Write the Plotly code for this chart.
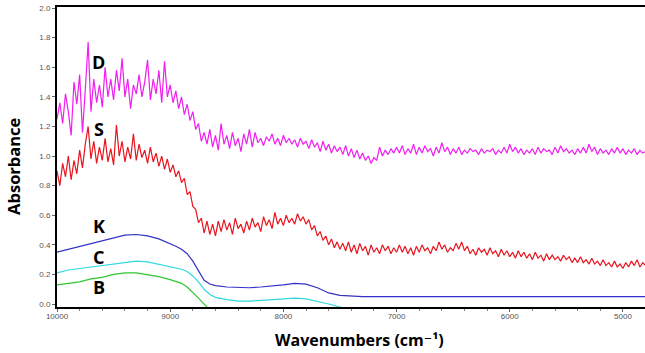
import numpy as np
import plotly.graph_objects as go

# ---- data ----
step = 25  # cm-1 sampling of the noisy spectra, starting at 10000

D_vals = [
    # 10000 .. 8600
    1.25, 1.36, 1.22, 1.42, 1.30, 1.14, 1.50, 1.35, 1.55, 1.16,
    1.45, 1.77, 1.30, 1.52, 1.36, 1.48, 1.33, 1.60, 1.40, 1.52,
    1.38, 1.58, 1.44, 1.66, 1.40, 1.52, 1.32, 1.48, 1.42, 1.55,
    1.40, 1.50, 1.65, 1.38, 1.52, 1.42, 1.58, 1.36, 1.64, 1.40,
    1.48, 1.36, 1.44, 1.32, 1.40, 1.28, 1.35, 1.24, 1.30, 1.18,
    1.22, 1.10, 1.16, 1.08, 1.18, 1.06, 1.14,
    # 8575 .. 7500
    1.04, 1.22, 1.08, 1.14, 1.05, 1.16, 1.07, 1.12, 1.03, 1.15,
    1.08, 1.18, 1.06, 1.16, 1.09, 1.12, 1.07, 1.13, 1.10, 1.15,
    1.08, 1.12, 1.07, 1.14, 1.09, 1.12, 1.08, 1.11, 1.06, 1.12,
    1.08, 1.10, 1.05, 1.11, 1.06, 1.09, 1.03, 1.10, 1.04, 1.08,
    1.02, 1.07, 1.03, 1.06,
    # 7475 .. 7000
    1.01, 1.07, 1.00, 1.05, 0.99, 1.04, 0.98, 1.02, 0.97, 1.00,
    0.95, 0.99, 0.97, 1.06, 1.00, 1.04, 1.01, 1.05, 1.02, 1.06,
    # 6975 .. 4800
    1.02, 1.07, 1.01, 1.05, 1.02, 1.08, 1.01, 1.06, 1.02, 1.07,
    1.03, 1.05, 1.00, 1.06, 1.02, 1.09, 1.03, 1.06, 1.01, 1.05,
    1.02, 1.06, 1.01, 1.04, 1.02, 1.05, 1.03, 1.04, 1.01, 1.05,
    1.02, 1.04, 1.03, 1.05, 1.01, 1.04, 1.02, 1.06, 1.02, 1.08,
    1.03, 1.06, 1.02, 1.05, 1.01, 1.04, 1.02, 1.05, 1.01, 1.06,
    1.02, 1.05, 1.03, 1.04, 1.01, 1.06, 1.02, 1.07, 1.03, 1.05,
    1.02, 1.04, 1.01, 1.05, 1.02, 1.06, 1.02, 1.08, 1.03, 1.06,
    1.01, 1.05, 1.02, 1.04, 1.01, 1.05, 1.02, 1.06, 1.02, 1.05,
    1.01, 1.04, 1.02, 1.05, 1.01, 1.04, 1.02, 1.03,
]

S_vals = [
    # 10000 .. 8600
    0.90, 0.80, 0.95, 0.86, 1.00, 0.84, 0.97, 0.88, 1.04, 0.92,
    1.08, 1.20, 0.98, 1.10, 0.95, 1.06, 0.97, 1.12, 0.96, 1.05,
    0.94, 1.21, 1.00, 1.10, 0.96, 1.06, 0.98, 1.15, 0.97, 1.08,
    0.99, 1.04, 0.95, 1.06, 0.96, 1.02, 0.93, 1.00, 0.91, 0.98,
    0.89, 0.94, 0.86, 0.90, 0.82, 0.85, 0.74, 0.76, 0.66, 0.64,
    0.55, 0.58, 0.48, 0.56, 0.47, 0.54, 0.46,
    # 8575 .. 7500
    0.56, 0.49, 0.57, 0.50, 0.55, 0.47, 0.58, 0.51, 0.54, 0.48,
    0.56, 0.50, 0.58, 0.52, 0.55, 0.49, 0.59, 0.53, 0.57, 0.51,
    0.62, 0.54, 0.58, 0.53, 0.60, 0.55, 0.58, 0.54, 0.61, 0.56,
    0.59, 0.54, 0.57, 0.50, 0.53, 0.46, 0.49, 0.43, 0.46, 0.40,
    0.44, 0.38, 0.42, 0.37,
    # 7475 .. 7000
    0.41, 0.36, 0.42, 0.35, 0.40, 0.34, 0.41, 0.36, 0.39, 0.33,
    0.40, 0.35, 0.38, 0.34, 0.40, 0.36, 0.39, 0.34, 0.38, 0.35,
    # 6975 .. 4800
    0.40, 0.35, 0.39, 0.34, 0.38, 0.33, 0.39, 0.35, 0.40, 0.36,
    0.38, 0.34, 0.39, 0.36, 0.42, 0.37, 0.40, 0.35, 0.38, 0.36,
    0.41, 0.37, 0.42, 0.36, 0.39, 0.34, 0.37, 0.33, 0.38, 0.35,
    0.37, 0.33, 0.38, 0.34, 0.36, 0.32, 0.37, 0.33, 0.36, 0.32,
    0.35, 0.31, 0.36, 0.32, 0.35, 0.31, 0.34, 0.30, 0.35, 0.31,
    0.33, 0.29, 0.34, 0.30, 0.33, 0.30, 0.32, 0.29, 0.33, 0.30,
    0.32, 0.28, 0.31, 0.28, 0.32, 0.28, 0.30, 0.27, 0.31, 0.27,
    0.29, 0.26, 0.30, 0.26, 0.28, 0.25, 0.29, 0.25, 0.27, 0.24,
    0.28, 0.25, 0.29, 0.26, 0.30, 0.25, 0.28, 0.26,
]

K_wn = [10000, 9900, 9800, 9700, 9600, 9500, 9400, 9300, 9200, 9100, 9000,
        8950, 8900, 8850, 8800, 8750, 8700, 8650, 8600, 8500, 8400, 8300,
        8200, 8100, 8000, 7900, 7800, 7700, 7600, 7500, 7400, 7300, 7000,
        6500, 6000, 5500, 5000, 4800]
K_vals = [0.35, 0.37, 0.39, 0.41, 0.43, 0.45, 0.465, 0.47, 0.46, 0.44, 0.41,
          0.39, 0.37, 0.34, 0.29, 0.22, 0.16, 0.135, 0.125, 0.115, 0.11, 0.11,
          0.115, 0.12, 0.13, 0.14, 0.135, 0.11, 0.075, 0.058, 0.052, 0.05, 0.05,
          0.05, 0.05, 0.05, 0.05, 0.05]

C_wn = [10000, 9900, 9800, 9700, 9600, 9500, 9400, 9300, 9200, 9100, 9000,
        8900, 8850, 8800, 8750, 8700, 8650, 8600, 8500, 8400, 8300, 8200,
        8100, 8000, 7900, 7800, 7700, 7600, 7500, 7400]
C_vals = [0.21, 0.23, 0.24, 0.25, 0.26, 0.27, 0.28, 0.29, 0.285, 0.27, 0.255,
          0.235, 0.22, 0.19, 0.15, 0.10, 0.065, 0.045, 0.03, 0.02, 0.02, 0.025,
          0.03, 0.035, 0.04, 0.035, 0.02, 0.0, -0.02, -0.04]

B_wn = [10000, 9900, 9800, 9700, 9600, 9500, 9400, 9300, 9200, 9100, 9000,
        8900, 8850, 8800, 8750, 8700, 8650]
B_vals = [0.13, 0.14, 0.15, 0.17, 0.18, 0.20, 0.21, 0.21, 0.20, 0.185, 0.165,
          0.14, 0.115, 0.08, 0.04, 0.0, -0.04]

labels = ["D", "S", "K", "C", "B"]
label_y = [1.635, 1.18, 0.527, 0.318, 0.115]
label_x = 9630

colors = {"D": "#f01ef0", "S": "#e8141e", "K": "#3232c8", "C": "#2fd8e0", "B": "#2ec82e"}

D_wn = 10000 - step * np.arange(len(D_vals))
S_wn = 10000 - step * np.arange(len(S_vals))

fig = go.Figure()
series = [("D", D_wn, D_vals), ("S", S_wn, S_vals), ("K", K_wn, K_vals),
          ("C", C_wn, C_vals), ("B", B_wn, B_vals)]
for name, xs, ys in series:
    fig.add_trace(go.Scatter(x=xs, y=ys, mode="lines", name=name,
                             line=dict(color=colors[name], width=1.2),
                             showlegend=False, hoverinfo="skip"))

for lab, ly in zip(labels, label_y):
    fig.add_annotation(x=label_x, y=ly, xref="x", yref="y", text=f"<b>{lab}</b>",
                       showarrow=False, font=dict(family="Open Sans, Arial", size=18, color="black"))

fig.add_annotation(x=-0.075, y=0.47, xref="paper", yref="paper", text="<b>Absorbance</b>",
                   textangle=-90, showarrow=False, xanchor="center", yanchor="middle",
                   font=dict(family="Open Sans, Arial", size=16.5, color="black"))
fig.add_annotation(x=0.515, y=-0.11, xref="paper", yref="paper",
                   text="<b>Wavenumbers (cm⁻¹)</b>", showarrow=False,
                   xanchor="center", yanchor="middle",
                   font=dict(family="Open Sans, DejaVu Sans, Arial", size=16, color="black"))

fig.update_layout(
    width=645, height=353,
    margin=dict(l=57, r=0, t=7, b=46),
    paper_bgcolor="white", plot_bgcolor="white",
    xaxis=dict(range=[10000, 4805], tickvals=[10000, 9000, 8000, 7000, 6000, 5000],
               ticktext=["10000", "9000", "8000", "7000", "6000", "5000"],
               showgrid=False, zeroline=False, showline=True, linecolor="black",
               linewidth=2, mirror=True, ticks="outside", ticklen=3, tickcolor="#666",
               ticklabelstandoff=-3,
               minor=dict(dtick=200, tick0=10000, ticks="outside", ticklen=2, tickcolor="#888"),
               tickfont=dict(family="Liberation Sans, Arial", size=8, color="#555")),
    yaxis=dict(range=[-0.02, 2.007], tickvals=[0, 0.2, 0.4, 0.6, 0.8, 1.0, 1.2, 1.4, 1.6, 1.8, 2.0],
               ticktext=["0.0", "0.2", "0.4", "0.6", "0.8", "1.0", "1.2", "1.4", "1.6", "1.8", "2.0"],
               showgrid=False, zeroline=False, showline=True, linecolor="black",
               linewidth=2, ticks="outside", ticklen=3, tickcolor="#666",
               tickfont=dict(family="Liberation Sans, Arial", size=8, color="#555")),
)

fig.write_html("out.html")
